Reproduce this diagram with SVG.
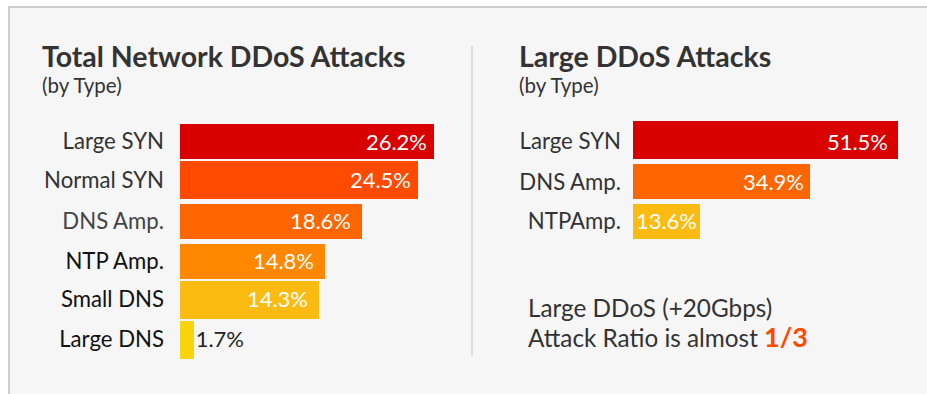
<svg xmlns="http://www.w3.org/2000/svg" width="927" height="394" viewBox="0 0 927 394">
<style>
.title{font-family:Lato,"Liberation Sans",sans-serif;font-weight:bold;font-size:28.5px;fill:#333}
.sub{font-family:Lato,"Liberation Sans",sans-serif;font-size:20.5px;fill:#333}
.lbl{font-family:Lato,"Liberation Sans",sans-serif;font-size:22.2px;fill:#333;text-anchor:end}
.val{font-family:Lato,"Liberation Sans",sans-serif;font-size:22px;fill:#fff;text-anchor:end}
.note{font-family:Lato,"Liberation Sans",sans-serif;font-size:24.3px;fill:#333}
</style>
<rect x="0" y="0" width="927" height="394" fill="#fff"/>
<rect x="9" y="7" width="930" height="400" fill="#f6f6f6" stroke="#cfcfcf" stroke-width="2"/>
<line x1="472" y1="46" x2="472" y2="356" stroke="#dcdcdc" stroke-width="2"/>
<g id="left-title">
<text class="title" x="42" y="67">Total Network DDoS Attacks</text>
<text class="sub" x="42" y="93">(by Type)</text>
</g>
<g id="left-large-syn">
<text class="lbl" x="164" y="149">Large SYN</text>
<rect x="180" y="124" width="254" height="35" fill="#d90000"/>
<text class="val" x="427" y="150">26.2%</text>
</g>
<g id="left-normal-syn">
<text class="lbl" x="164" y="188">Normal SYN</text>
<rect x="180" y="161" width="238" height="38" fill="#ff4a00"/>
<text class="val" x="411" y="188">24.5%</text>
</g>
<g id="left-dns-amp">
<text class="lbl" x="164" y="229" style="fill:#444">DNS Amp.</text>
<rect x="180" y="204" width="182" height="35" fill="#ff6600"/>
<text class="val" x="351" y="229">18.6%</text>
</g>
<g id="left-ntp-amp">
<text class="lbl" x="164" y="269" style="fill:#111">NTP Amp.</text>
<rect x="180" y="244" width="145" height="35" fill="#ff8800"/>
<text class="val" x="314" y="269">14.8%</text>
</g>
<g id="left-small-dns">
<text class="lbl" x="164" y="307" style="fill:#111">Small DNS</text>
<rect x="180" y="281" width="139" height="38" fill="#fbbb10"/>
<text class="val" x="308" y="307">14.3%</text>
</g>
<g id="left-large-dns">
<text class="lbl" x="164" y="347" style="fill:#111">Large DNS</text>
<rect x="180" y="321" width="14" height="38" fill="#f8d50a"/>
<text class="val" x="244" y="347" style="fill:#222">1.7%</text>
</g>
<g id="right-title">
<text class="title" x="519" y="67">Large DDoS Attacks</text>
<text class="sub" x="519" y="93">(by Type)</text>
</g>
<g id="right-large-syn">
<text class="lbl" x="621" y="149">Large SYN</text>
<rect x="633" y="121" width="265" height="38" fill="#d90000"/>
<text class="val" x="888" y="150">51.5%</text>
</g>
<g id="right-dns-amp">
<text class="lbl" x="621" y="190">DNS Amp.</text>
<rect x="633" y="164" width="177" height="35" fill="#ff6600"/>
<text class="val" x="804" y="190">34.9%</text>
</g>
<g id="right-ntp-amp">
<text class="lbl" x="621" y="229">NTPAmp.</text>
<rect x="633" y="204" width="67" height="35" fill="#fbbb10"/>
<text class="val" x="697" y="229">13.6%</text>
</g>
<g id="note">
<text class="note" x="528" y="317">Large DDoS (+20Gbps)</text>
<text class="note" x="528" y="347">Attack Ratio is almost <tspan font-weight="bold" font-size="27" fill="#ff4a00">1/3</tspan></text>
</g>
</svg>
